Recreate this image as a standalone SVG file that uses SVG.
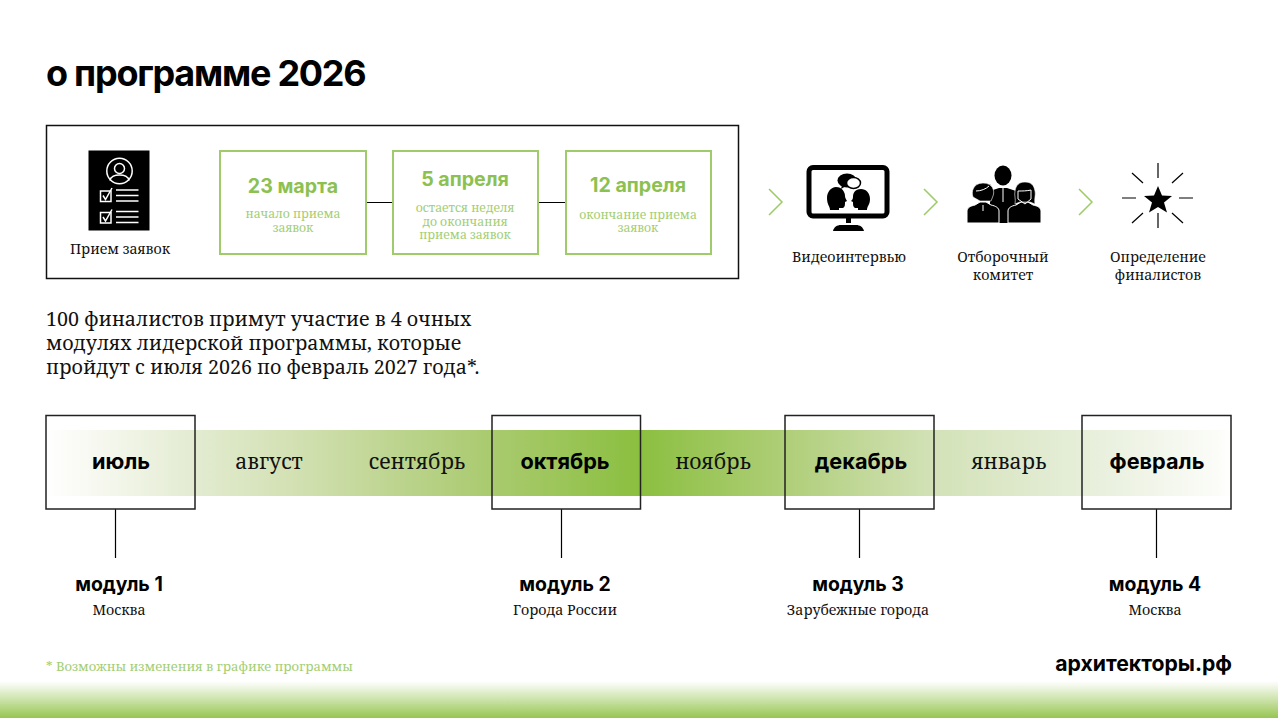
<svg xmlns="http://www.w3.org/2000/svg" width="1278" height="718" viewBox="0 0 1278 718">
<style>
.h{font-family:Inter,"Liberation Sans",sans-serif;font-weight:700;fill:#000}
.s{font-family:"Noto Serif","Liberation Serif","DejaVu Serif",serif;fill:#111}
.g{fill:#8cc152}
.gs{fill:#a3ce73}
.box{fill:none;stroke:#9fcb6b;stroke-width:2}
.mb{fill:none;stroke:#222;stroke-width:1.5}
.ln{stroke:#000;stroke-width:1.2;fill:none}
.ch{fill:none;stroke:#9ccb68;stroke-width:1.5}
.m{font-size:21.200px;text-anchor:middle}
.b{font-size:21.700px;text-anchor:middle}
.c{text-anchor:middle}
.t{font-size:14.200px;text-anchor:middle}
.d{font-size:19.600px;text-anchor:middle}
.n{font-size:12.200px;text-anchor:middle}
.q{font-size:19.400px;text-anchor:middle}
.w{fill:none;stroke:#fff;stroke-width:1.5}
.o{fill:none;stroke:#fff;stroke-width:1}
</style>
<defs>
<linearGradient id="band" x1="0" x2="1" y1="0" y2="0">
<stop offset="0" stop-color="#fff"/>
<stop offset="0.045" stop-color="#f6f8ef"/>
<stop offset="0.128" stop-color="#e2ebd0"/>
<stop offset="0.222" stop-color="#d0dfae"/>
<stop offset="0.297" stop-color="#bcd48e"/>
<stop offset="0.378" stop-color="#a9ca6e"/>
<stop offset="0.5" stop-color="#8bbf40"/>
<stop offset="0.623" stop-color="#afce78"/>
<stop offset="0.75" stop-color="#d3e2b8"/>
<stop offset="0.873" stop-color="#e6eed9"/>
<stop offset="0.987" stop-color="#fbfcf8"/>
<stop offset="1" stop-color="#fff"/>
</linearGradient>
<linearGradient id="foot" x1="0" x2="0" y1="0" y2="1">
<stop offset="0" stop-color="#9cc85a" stop-opacity="0"/>
<stop offset="1" stop-color="#97c551"/>
</linearGradient>
</defs>
<rect width="1278" height="718" fill="#fff"/>
<rect y="681" width="1278" height="37" fill="url(#foot)"/>
<text class="h" x="46" y="86" font-size="36" letter-spacing="-1.250">о программе 2026</text>
<rect id="panel" x="46.500" y="125.500" width="692" height="153" fill="none" stroke="#111" stroke-width="1.500"/>
<g id="connectors">
<path class="ln" d="M366 202.500H392M539 202.500H565M115.500 509V558M561.500 509V558M859.500 509V558M1156.500 509V558"/>
<path class="ch" d="M769 189L782 202L769 215M924 189L937 202L924 215M1079 189L1092 202L1079 215"/>
</g>
<g id="apply">
<rect x="88.500" y="150.500" width="61" height="80" fill="#000"/>
<circle cx="119.500" cy="171" r="12.700" class="w"/>
<circle cx="119.500" cy="168.500" r="5" class="w"/>
<path class="w" d="M110 180.500C111 173 128 173 129 180.500"/>
<rect x="100.500" y="191" width="10.500" height="10.500" class="w"/>
<rect x="100.500" y="212.500" width="10.500" height="10.500" class="w"/>
<path class="w" d="M103 195.500L105.500 199.500L112 188M103 217L105.500 221L112 209.500M116 190H138.500M116 195.500H138.500M116 201H138.500M116 211.500H138.500M116 217H138.500M116 222.500H138.500"/>
<text class="s t" x="120" y="254">Прием заявок</text>
</g>
<g id="d1">
<rect class="box" x="220" y="151" width="146" height="103"/>
<text class="h g d" x="293" y="193">23 марта</text>
<text class="s gs n" x="293" y="218">начало приема</text>
<text class="s gs n" x="293" y="232">заявок</text>
</g>
<g id="d2">
<rect class="box" x="393" y="151" width="145" height="103"/>
<text class="h g d" x="465" y="186">5 апреля</text>
<text class="s gs n" x="465" y="212">остается неделя</text>
<text class="s gs n" x="465" y="226">до окончания</text>
<text class="s gs n" x="465" y="239">приема заявок</text>
</g>
<g id="d3">
<rect class="box" x="566" y="151" width="145" height="103"/>
<text class="h g d" x="638" y="192">12 апреля</text>
<text class="s gs n" x="638" y="219">окончание приема</text>
<text class="s gs n" x="638" y="232">заявок</text>
</g>
<g id="video">
<rect x="809" y="167.500" width="78" height="48.500" rx="4" fill="none" stroke="#000" stroke-width="5"/>
<path d="M846 218h5v5h-5zM833 231c1-4 4-6 8-6h15c4 0 7 2 8 6z"/>
<path d="M836 187c6 0 9 5 9 9 0 2 1 3 2 5l-2 1c0 3 0 5-2 6l-4 0v2h-9c0-4-3-5-3-12 0-6 4-11 9-11z"/>
<path d="M861 189c-6 0-8 4-8 8 0 2-1 3-2 4l2 1c0 3 0 5 2 6l3 0v2h9c0-4 3-5 3-11 0-6-4-10-9-10z"/>
<ellipse cx="847" cy="180.500" rx="9.500" ry="7"/>
<path d="M842 185l-1 4 5-3z"/>
<ellipse cx="853.500" cy="183" rx="7" ry="5.500" fill="#fff" stroke="#000" stroke-width="1.500"/>
<text class="s t" x="849" y="262">Видеоинтервью</text>
</g>
<g id="committee">
<ellipse cx="1003" cy="175.500" rx="8.500" ry="10"/>
<path d="M990 191l9-3h8l9 3v32h-26z"/>
<path class="o" d="M1003 188v14"/>
<path d="M967 223v-12c0-3 3-5 8-6l5-3h6l5 3c5 1 8 3 8 6v12z" stroke="#fff"/>
<path d="M973 197c-2-5 0-14 10-14s12 8 10 13l-2 5h-11z" stroke="#fff" stroke-width=".6"/>
<path class="o" d="M976 191c5 0 10-2 13-5M983 205v6"/>
<path d="M1008 223v-12c0-3 3-5 8-6l5-3h7l5 3c5 1 8 3 8 6v12z" stroke="#fff"/>
<path d="M1015 204c1-5-1-9 0-13 1-6 4-9 10-9s9 3 10 9c1 4-1 8 0 13l-5-2h-10z" stroke="#fff" stroke-width=".6"/>
<path class="o" d="M1018 191c4 0 9 0 13-1v9l-6 5-7-5z"/>
<text class="s t" x="1003" y="262">Отборочный</text>
<text class="s t" x="1003" y="280">комитет</text>
</g>
<g id="final">
<path d="M1158 186l4 9.500 10 .5-8 6.500 3 10-9-5.500-9 5.500 3-10-8-6.500 10-.5z"/>
<path class="ln" d="M1158 163V178M1158 213V228M1122 198H1136M1179 198H1193M1132 173L1143 183M1183 173L1172 183M1132 223L1143 213M1183 223L1172 213"/>
<text class="s t" x="1158" y="262">Определение</text>
<text class="s t" x="1158" y="280">финалистов</text>
</g>
<g id="intro" class="s" font-size="19.700">
<text x="46" y="326">100 финалистов примут участие в 4 очных</text>
<text x="46" y="350">модулях лидерской программы, которые</text>
<text x="46" y="374">пройдут с июля 2026 по февраль 2027 года*.</text>
</g>
<g id="timeline">
<rect x="46" y="430" width="1186" height="66" fill="url(#band)"/>
<text class="s m" x="269" y="469">август</text>
<text class="s m" x="417" y="469">сентябрь</text>
<text class="s m" x="713" y="469">ноябрь</text>
<text class="s m" x="1009" y="469">январь</text>
</g>
<g id="m1">
<rect class="mb" x="46" y="415.500" width="149" height="93.500"/>
<text class="h b" x="121" y="469">июль</text>
<text class="h q" x="119" y="591">модуль 1</text>
<text class="s t" x="119" y="615">Москва</text>
</g>
<g id="m2">
<rect class="mb" x="492" y="415.500" width="148.500" height="93.500"/>
<text class="h b" x="565" y="469">октябрь</text>
<text class="h q" x="565" y="591">модуль 2</text>
<text class="s t" x="565" y="615">Города России</text>
</g>
<g id="m3">
<rect class="mb" x="785" y="415.500" width="149" height="93.500"/>
<text class="h b" x="861" y="469">декабрь</text>
<text class="h q" x="858" y="591">модуль 3</text>
<text class="s t" x="858" y="615">Зарубежные города</text>
</g>
<g id="m4">
<rect class="mb" x="1082" y="415.500" width="149" height="93.500"/>
<text class="h b" x="1157" y="469">февраль</text>
<text class="h q" x="1155" y="591">модуль 4</text>
<text class="s t" x="1155" y="615">Москва</text>
</g>
<text class="s gs" x="46" y="671" font-size="13">* Возможны изменения в графике программы</text>
<text class="h" x="1232" y="671" font-size="21.200" text-anchor="end">архитекторы.рф</text>
</svg>
